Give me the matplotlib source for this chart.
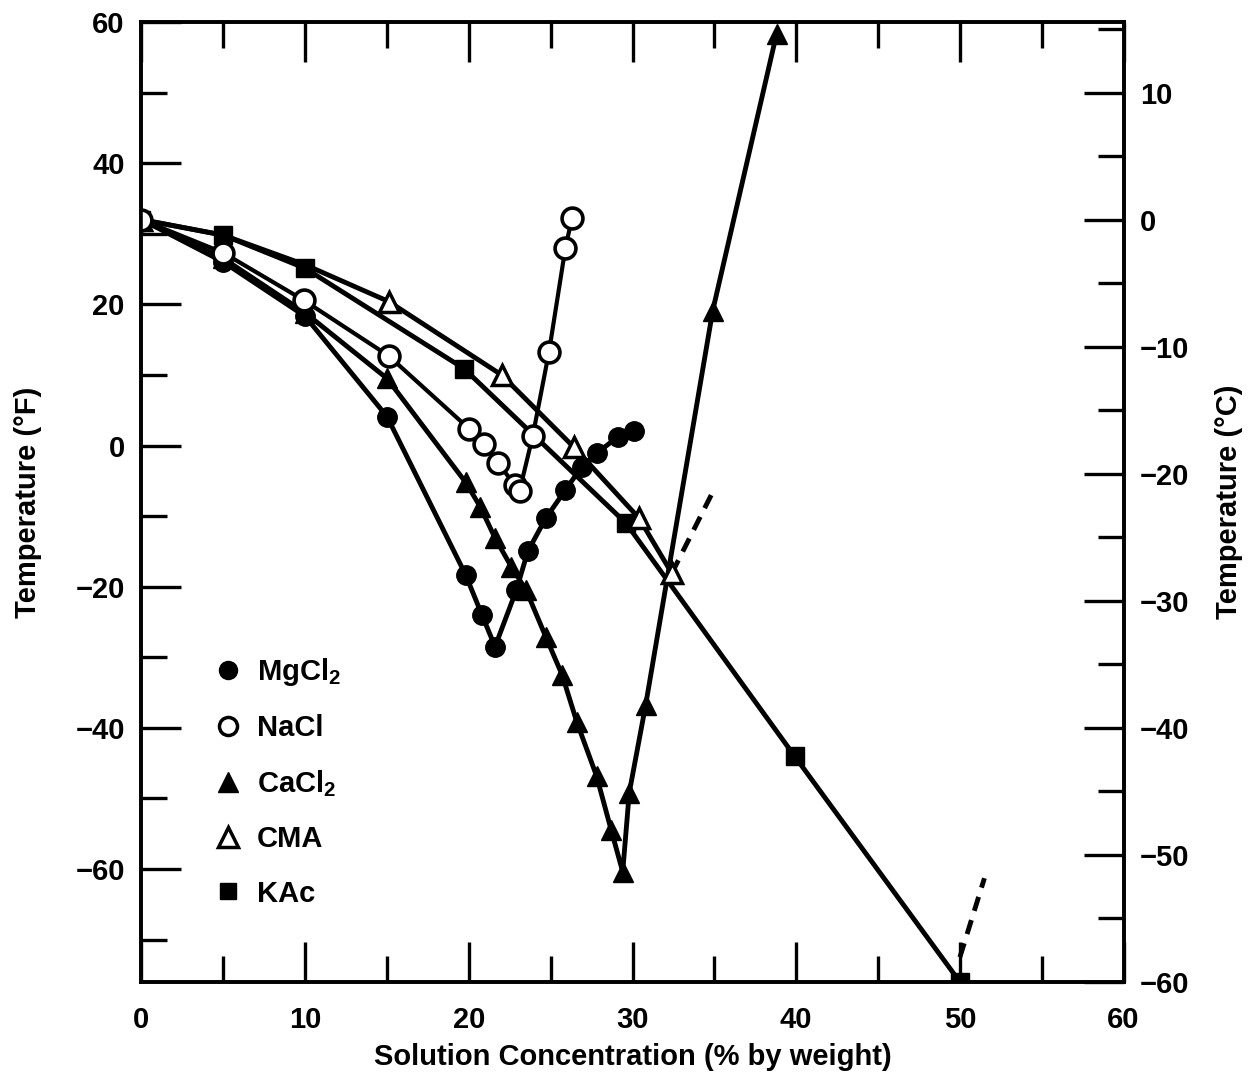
import matplotlib.pyplot as plt
from matplotlib.lines import Line2D
from matplotlib.ticker import MultipleLocator

plt.rcParams['font.family'] = ['Liberation Sans', 'DejaVu Sans']
plt.rcParams['font.weight'] = 'bold'
plt.rcParams['axes.labelweight'] = 'bold'
plt.rcParams['mathtext.fontset'] = 'custom'
plt.rcParams['mathtext.rm'] = 'Liberation Sans:bold'
plt.rcParams['mathtext.bf'] = 'Liberation Sans:bold'

# concentration (% by weight) vs freezing temperature (degF)
mgcl2_x = [0, 5, 10, 15, 19.8, 20.8, 21.6, 22.9, 23.6, 24.7, 25.9, 26.9, 27.8, 29.1, 30.1]
mgcl2_t = [32, 26, 18.3, 4.1, -18.3, -24, -28.5, -20.5, -15, -10.3, -6.3, -3, -1.1, 1.2, 2]

nacl_x = [0, 5, 9.9, 15.1, 20.0, 20.9, 21.8, 22.8, 23.1, 23.9, 24.9, 25.9, 26.3]
nacl_t = [32, 27.3, 20.6, 12.7, 2.4, 0.2, -2.5, -5.6, -6.4, 1.3, 13.3, 28, 32.2]

cacl2_x = [0, 5, 10, 15, 19.8, 20.7, 21.6, 22.6, 23.5, 24.7, 25.7, 26.6, 27.8, 28.7, 29.4,
           29.8, 30.8, 34.9, 38.8]
cacl2_t = [32, 26.5, 18.8, 9.5, -5.2, -8.7, -13.1, -17.2, -20.5, -27.1, -32.5, -39.2, -46.8,
           -54.5, -60.4, -49.2, -36.8, 19.1, 58.3]

cma_x = [0, 5, 10, 15.1, 22.0, 26.4, 30.4, 32.4]
cma_t = [32, 29.8, 25.6, 20.4, 10, -0.2, -10.3, -18.1]
cma_shown = [0, 3, 4, 5, 6, 7]
cma_dash_x = [32.4, 34.9]
cma_dash_t = [-18.1, -6.6]

kac_x = [0, 5.0, 10.0, 19.7, 29.6, 39.9, 50.0]
kac_t = [32, 29.8, 25.1, 10.9, -11, -44, -76]
kac_dash_x = [50.0, 51.5]
kac_dash_t = [-72.5, -61.3]

fig = plt.figure(figsize=(12.6, 10.83), dpi=100)
ax = fig.add_axes([0.1123, 0.0933, 0.7794, 0.8864])

lw = 3.5
ax.plot(kac_x, kac_t, color='black', lw=lw, marker='s', ms=13, mfc='black', mec='black', zorder=3)
ax.plot(kac_dash_x, kac_dash_t, color='black', lw=lw, ls=(0, (3, 2)), zorder=3)
ax.plot(cma_x, cma_t, color='black', lw=lw, marker='^', ms=15, mfc='white', mec='black', mew=2.5,
        markevery=cma_shown, zorder=4)
ax.plot(cma_dash_x, cma_dash_t, color='black', lw=lw, ls=(0, (3, 2)), zorder=3)
ax.plot(cacl2_x, cacl2_t, color='black', lw=lw, marker='^', ms=14, mfc='black', mec='black', zorder=3)
ax.plot(mgcl2_x, mgcl2_t, color='black', lw=lw, marker='o', ms=14, mfc='black', mec='black', zorder=3)
ax.plot(nacl_x, nacl_t, color='black', lw=3, marker='o', ms=15, mfc='white', mec='black', mew=2.6, zorder=5)

ax.set_xlim(0, 60)
ax.set_ylim(-76, 60)
ax.xaxis.set_major_locator(MultipleLocator(10))
ax.xaxis.set_minor_locator(MultipleLocator(5))
ax.yaxis.set_major_locator(MultipleLocator(20))
ax.yaxis.set_minor_locator(MultipleLocator(10))
ax.tick_params(which='both', direction='in', top=True, labeltop=False, width=2.4, labelsize=21, pad=12)
ax.tick_params(axis='x', which='both', pad=17)
ax.tick_params(which='major', length=29)
ax.tick_params(which='minor', length=19)
for s in ax.spines.values():
    s.set_linewidth(2.6)

ax.set_xlabel('Solution Concentration (% by weight)', fontsize=21, labelpad=7)
ax.set_ylabel('Temperature (°F)', fontsize=21, labelpad=24)

# Celsius axis on the right
axr = ax.twinx()
axr.set_ylim((-76 - 32) * 5 / 9, (60 - 32) * 5 / 9)
axr.yaxis.set_major_locator(MultipleLocator(10))
axr.yaxis.set_minor_locator(MultipleLocator(5))
axr.tick_params(which='both', direction='in', width=2.4, labelsize=21, pad=12)
axr.tick_params(which='major', length=29)
axr.tick_params(which='minor', length=19)
axr.set_ylabel('Temperature (°C)', fontsize=21, labelpad=18)
for s in axr.spines.values():
    s.set_linewidth(2.6)

handles = [
    Line2D([], [], ls='none', marker='o', ms=13, mfc='black', mec='black'),
    Line2D([], [], ls='none', marker='o', ms=13, mfc='white', mec='black', mew=2.5),
    Line2D([], [], ls='none', marker='^', ms=14, mfc='black', mec='black'),
    Line2D([], [], ls='none', marker='^', ms=14, mfc='white', mec='black', mew=2.5),
    Line2D([], [], ls='none', marker='s', ms=12, mfc='black', mec='black'),
]
labels = [r'MgCl$_2$', 'NaCl', r'CaCl$_2$', 'CMA', 'KAc']
ax.legend(handles, labels, loc='upper left', bbox_to_anchor=(0.064, 0.352), frameon=False,
          fontsize=21, handlelength=0.8, handletextpad=0.6, labelspacing=0.9, borderaxespad=0)

fig.savefig('out.png', dpi=100)
